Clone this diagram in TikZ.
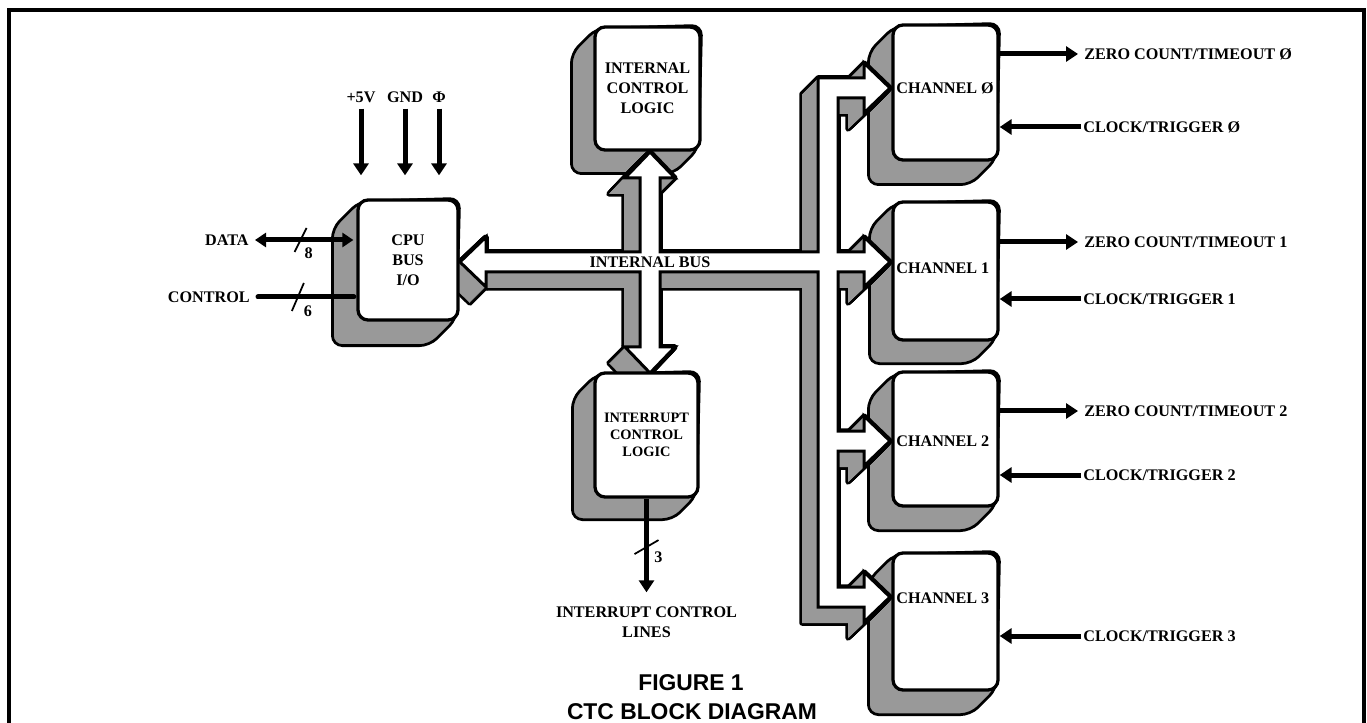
\documentclass[tikz,border=0pt]{standalone}
\usepackage{fontspec}
\setmainfont{Liberation Serif}
\setsansfont{Liberation Sans}
\usetikzlibrary{arrows.meta,positioning}
\pgfdeclarelayer{shade}
\pgfdeclarelayer{bus}
\pgfsetlayers{shade,bus,main}
\definecolor{shadegray}{gray}{0.6}

% outline of the whole internal bus, in pixel units
\newcommand{\buspath}{(460,262) -- (486,237) -- (486,252) -- (640,252) -- (640,178)
  -- (625,178) -- (650,152) -- (675,178) -- (660,178) -- (660,252) -- (818,252)
  -- (818,78) -- (864,78) -- (864,63) -- (890,88) -- (864,113) -- (864,98) -- (838,98)
  -- (838,252) -- (864,252) -- (864,237) -- (890,262) -- (864,287) -- (864,272)
  -- (838,272) -- (838,431) -- (864,431) -- (864,416) -- (890,441) -- (864,466)
  -- (864,451) -- (838,451) -- (838,587) -- (864,587) -- (864,572) -- (890,597)
  -- (864,622) -- (864,607) -- (818,607) -- (818,272) -- (660,272) -- (660,347)
  -- (675,347) -- (650,373) -- (625,347) -- (640,347) -- (640,272) -- (486,272)
  -- (486,287) -- cycle}
\newcommand{\boxshade}[2]{\draw[shadeline] ([shift={(3,3)}]#1.north west)
  -- ([shift={(-#2,#2+6)}]#1.north west) -- ([shift={(-#2,#2)}]#1.south west)
  -- ([shift={(-#2-6,#2)}]#1.south east) -- ([shift={(-3,-3)}]#1.south east)
  -- (#1.north east) -- cycle;}

\begin{document}
\begin{tikzpicture}[x=0.2mm,y=-0.2mm,
  lab/.style={font=\bfseries\fontsize{9.2}{11.5}\selectfont,inner sep=0pt,text depth=0pt},
  blk/.style={draw,line width=0.65mm,fill=white,rounded corners=2mm,inner sep=0pt,
    minimum width=21mm,align=center,font=\bfseries\fontsize{9.2}{11.5}\selectfont},
  chan/.style={blk,minimum height=27mm},
  sig/.style={line width=1mm,-{Triangle[length=2.4mm,width=3mm]}},
  slash/.style={line width=0.35mm},
  shadeline/.style={fill=shadegray,draw=black,line width=0.55mm,rounded corners=2mm},
  busline/.style={fill=white,draw=black,line width=0.6mm}]
  \useasboundingbox (0,0) rectangle (1367,723);
  \draw[line width=0.8mm] (9,723) -- (9,10) -- (1364,10) -- (1364,723);

  % blocks
  \node[blk,minimum width=20mm,minimum height=24mm] (cpu) at (408,260) {CPU\\BUS\\I/O};
  \node[blk,minimum height=24.6mm] (icl) at (647.5,88.5) {INTERNAL\\CONTROL\\LOGIC};
  \node[blk,minimum width=20.6mm,minimum height=24.8mm,
    font=\bfseries\fontsize{8.2}{9.8}\selectfont] (irq) at (646.5,435) {INTERRUPT\\CONTROL\\LOGIC};
  \node[chan] (ch0) at (945.5,92.5) {};
  \node[chan,minimum height=27.6mm] (ch1) at (945.5,271) {};
  \node[chan,minimum height=26.8mm] (ch2) at (945.5,439) {};
  \node[chan,minimum height=27.4mm] (ch3) at (945.5,621.5) {};
  \foreach \n/\y/\t in {0/88/Ø,1/268/1,2/441/2,3/598/3}
    \node[lab,anchor=west] (ch\n t) at (896,\y) {CHANNEL \t};
  \node[lab] (ibus) at (650,262) {INTERNAL BUS};

  \begin{pgfonlayer}{shade}
    \foreach \b/\d in {cpu/24,icl/22,irq/21,ch0/23,ch1/22,ch2/23,ch3/23}
      {\boxshade{\b}{\d}}
  \end{pgfonlayer}
  \begin{pgfonlayer}{bus}
    \foreach \s in {0,...,16}
      {\filldraw[black,line width=1.1mm,line join=round,shift={(-\s,\s)}] \buspath;}
    \foreach \s in {0,...,16}
      {\fill[shadegray,shift={(-\s,\s)}] \buspath;}
    \draw[busline] \buspath;
  \end{pgfonlayer}

  % supply and clock inputs
  \foreach \n/\x/\t in {vcc/361/+5V,gnd/405/GND,phi/439/Φ} {
    \node[lab] (\n) at (\x,97) {\t};
    \draw[sig,shorten <=1.2mm,shorten >=4.6mm] (\n.south) -- (\n.south |- cpu.north);
  }

  % cpu side
  \node[lab,anchor=east] (data) at (249,240) {DATA};
  \node[lab,anchor=east] (ctrl) at (250,297) {CONTROL};
  \draw[line width=1mm,{Triangle[length=2.2mm,width=2.8mm]}-{Triangle[length=2.2mm,width=2.8mm]},
    shorten <=1.2mm,shorten >=0.6mm] (data.east) -- (data.east -| cpu.west) coordinate[pos=0.48] (dsl);
  \draw[slash] ([shift={(-6,12)}]dsl) -- ([shift={(6,-12)}]dsl);
  \node[lab] (n8) at ([shift={(8,13)}]dsl) {8};
  \draw[line width=1mm,line cap=round,shorten <=1.6mm,shorten >=0.5mm]
    (ctrl.east) -- (ctrl.east -| cpu.west) coordinate[pos=0.45] (csl);
  \draw[slash] ([shift={(-6,14)}]csl) -- ([shift={(6,-14)}]csl);
  \node[lab] (n6) at ([shift={(10,14)}]csl) {6};

  % interrupt lines
  \node[font=\bfseries\fontsize{9.2}{11.3}\selectfont,align=center,inner sep=0pt]
    (intl) at (646.5,622) {INTERRUPT CONTROL\\LINES};
  \draw[sig,shorten >=2.8mm] (irq.south) -- (irq.south |- intl.north) coordinate[pos=0.45] (isl);
  \draw[slash] ([shift={(-12,7)}]isl) -- ([shift={(12,-7)}]isl);
  \node[lab] (n3) at ([shift={(12,10)}]isl) {3};

  % channel outputs and inputs
  \node[lab,anchor=west] (zc0) at (1084,54) {ZERO COUNT/TIMEOUT Ø};
  \node[lab,anchor=west] (ct0) at (1083,127) {CLOCK/TRIGGER Ø};
  \node[lab,anchor=west] (zc1) at (1084,242) {ZERO COUNT/TIMEOUT 1};
  \node[lab,anchor=west] (ct1) at (1083,299) {CLOCK/TRIGGER 1};
  \node[lab,anchor=west] (zc2) at (1084,411) {ZERO COUNT/TIMEOUT 2};
  \node[lab,anchor=west] (ct2) at (1083,475) {CLOCK/TRIGGER 2};
  \node[lab,anchor=west] (ct3) at (1083,636) {CLOCK/TRIGGER 3};
  \foreach \n in {0,1,2}
    \draw[sig,shorten >=1.2mm] (ch\n.east |- zc\n) -- (zc\n.west);
  \foreach \n in {0,1,2,3}
    \draw[sig,shorten <=0.4mm] (ct\n.west) -- (ch\n.east |- ct\n);

  \node[font=\sffamily\bfseries\fontsize{13}{15}\selectfont,inner sep=0pt] (fig) at (691,683) {FIGURE 1};
  \node[font=\sffamily\bfseries\fontsize{13}{15}\selectfont,inner sep=0pt] (ttl) at (692,712) {CTC BLOCK DIAGRAM};
\end{tikzpicture}
\end{document}
